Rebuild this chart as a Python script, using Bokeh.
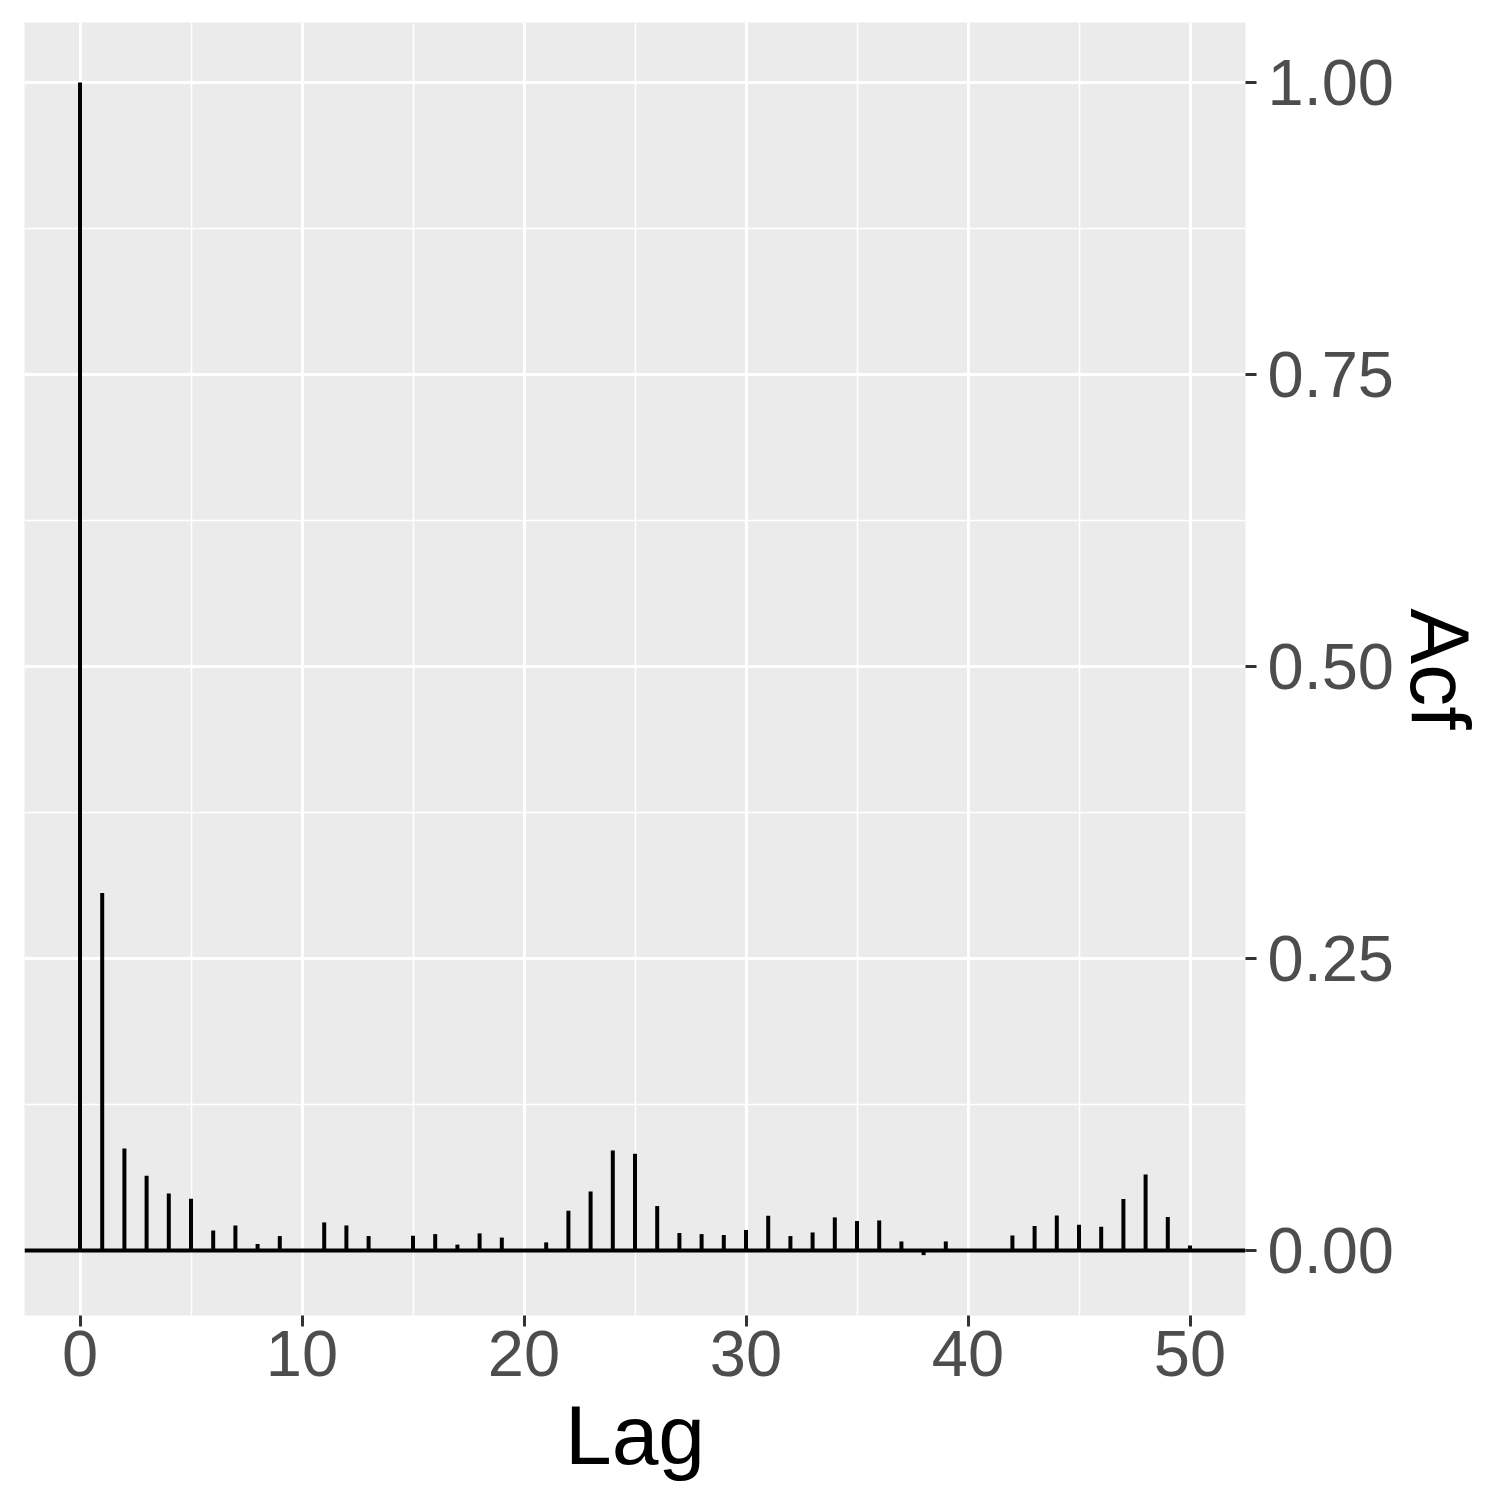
from bokeh.plotting import figure
from bokeh.models import FixedTicker, Span, Range1d, ColumnDataSource, NumeralTickFormatter
from bokeh.embed import file_html
from bokeh.resources import INLINE

lags = list(range(0, 51))
acf = [1.0, 0.306, 0.0873, 0.064, 0.0488, 0.0443, 0.0171, 0.0214, 0.0055, 0.0123,
       0.0005, 0.024, 0.0214, 0.0123, 0.0005, 0.0126, 0.014, 0.005, 0.0146, 0.011,
       0.0005, 0.0069, 0.034, 0.0505, 0.0856, 0.0828, 0.038, 0.0149, 0.014, 0.0132,
       0.0175, 0.0297, 0.0123, 0.0154, 0.0283, 0.0252, 0.0257, 0.0077, -0.004, 0.0077,
       0.0003, 0.0003, 0.0128, 0.0209, 0.030, 0.022, 0.0203, 0.044, 0.065, 0.0286,
       0.0043]

x_ticks = [0, 10, 20, 30, 40, 50]
x_minor = [5, 15, 25, 35, 45]
y_ticks = [0.0, 0.25, 0.5, 0.75, 1.0]
y_minor = [0.125, 0.375, 0.625, 0.875]

FONT = "Liberation Sans"

src = ColumnDataSource(dict(lag=lags, acf=acf, zero=[0] * len(lags)))

p = figure(frame_width=1221, frame_height=1293, output_backend="svg",
           toolbar_location=None, y_axis_location="right",
           x_range=Range1d(-2.5, 52.5), y_range=Range1d(-0.0557, 1.0514),
           min_border_left=24, min_border_top=22, min_border_right=0, min_border_bottom=0)

p.background_fill_color = "#EBEBEB"
p.border_fill_color = "white"
p.outline_line_color = None

for ax in (p.xaxis[0], p.yaxis[0]):
    ax.axis_line_color = None
    ax.major_tick_line_color = "#333333"
    ax.major_tick_line_width = 3
    ax.major_tick_out = 11
    ax.major_tick_in = 0
    ax.minor_tick_line_color = None
    ax.major_label_text_font = FONT
    ax.major_label_text_font_size = "65px"
    ax.major_label_text_color = "#4D4D4D"
    ax.axis_label_text_font = FONT
    ax.axis_label_text_font_size = "84px"
    ax.axis_label_text_color = "black"
    ax.axis_label_text_font_style = "normal"

p.xaxis.ticker = FixedTicker(ticks=x_ticks, minor_ticks=x_minor)
p.yaxis.ticker = FixedTicker(ticks=y_ticks, minor_ticks=y_minor)
p.yaxis.formatter = NumeralTickFormatter(format="0.00")
p.xaxis.axis_label = "Lag"
p.yaxis.axis_label = "Acf"
p.xaxis.major_label_standoff = 4
p.yaxis.major_label_standoff = 11
p.xaxis.axis_label_standoff = 9
p.yaxis.axis_label_standoff = -4

for g in (p.xgrid[0], p.ygrid[0]):
    g.grid_line_color = "white"
    g.grid_line_width = 3
    g.minor_grid_line_color = "white"
    g.minor_grid_line_width = 1.5

p.add_layout(Span(location=0, dimension="width", line_color="black", line_width=4))
p.segment(x0="lag", y0="zero", x1="lag", y1="acf", source=src,
          line_color="black", line_width=4)

open("out.html", "w").write(file_html(p, INLINE))
